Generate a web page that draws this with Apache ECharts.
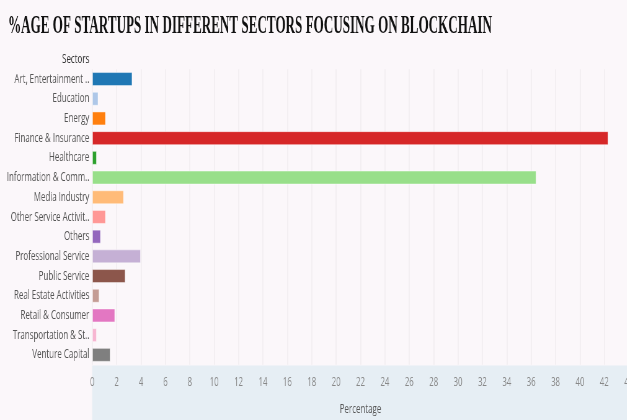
<!DOCTYPE html>
<html>
<head>
<meta charset="utf-8">
<script src="https://cdn.jsdelivr.net/npm/echarts@6/dist/echarts.min.js"></script>
<style>
html, body { margin: 0; padding: 0; overflow: hidden; width: 627px; height: 420px; background: #fbf7fa; }
#chart { height: 420px; transform-origin: 0 0; }
</style>
</head>
<body>
<div id="chart"></div>
<script>
// ---- data ----
const titleText = '%AGE OF STARTUPS IN DIFFERENT SECTORS FOCUSING ON BLOCKCHAIN';
const categories = [
  'Art, Entertainment ..',
  'Education',
  'Energy',
  'Finance & Insurance',
  'Healthcare',
  'Information & Comm..',
  'Media Industry',
  'Other Service Activit..',
  'Others',
  'Professional Service',
  'Public Service',
  'Real Estate Activities',
  'Retail & Consumer',
  'Transportation & St..',
  'Venture Capital'
];
const percentages = [3.28, 0.49, 1.10, 42.33, 0.36, 36.42, 2.58, 1.10, 0.69, 3.97, 2.71, 0.57, 1.86, 0.36, 1.48];
const xTickMin = 0, xTickMax = 44, xTickStep = 2;

// ---- styles ----
const palette = ['#1f77b4', '#aec7e8', '#ff7f0e', '#d62728', '#2ca02c', '#98df8a', '#ffbb78', '#ff9896',
                 '#9467bd', '#c5b0d5', '#8c564b', '#c49c94', '#e377c2', '#f7b6d2', '#7f7f7f'];
const S = 0.62;                 // horizontal condensing of the whole picture
const W = 627 / S;
const px = v => v / S;
const FONT = '"Open Sans", "Noto Sans", sans-serif';

const el = document.getElementById('chart');
el.style.width = W + 'px';
el.style.transform = 'scaleX(' + S + ')';

const chart = echarts.init(el, null, { renderer: 'canvas' });
chart.setOption({
  backgroundColor: '#fbf7fa',
  animation: false,
  graphic: [
    { type: 'rect', silent: true, z: -10,
      shape: { x: px(92.3), y: 365.5, width: W, height: 60 },
      style: { fill: '#e6eef4' } },
    { type: 'text', silent: true, x: px(8), y: 26, scaleX: 0.504 / S,
      style: { text: titleText, font: 'bold 26px "Liberation Serif", "DejaVu Serif", serif',
               fill: '#111111', textVerticalAlign: 'middle', verticalAlign: 'middle' } }
  ],
  grid: { left: px(92.3), top: 69.2, height: 295.5, width: px(536.4),
          containLabel: false, outerBoundsMode: 'none' },
  xAxis: {
    type: 'value', min: xTickMin, max: xTickMax, interval: xTickStep,
    axisLine: { show: false }, axisTick: { show: false },
    axisLabel: { color: '#888888', fontSize: 12.5, margin: 11, fontFamily: FONT },
    splitLine: { show: true, lineStyle: { color: 'rgba(0,0,0,0.045)', width: 1 / S } },
    name: 'Percentage', nameLocation: 'middle', nameGap: 38,
    nameTextStyle: { color: '#555555', fontSize: 12.8, fontFamily: FONT }
  },
  yAxis: {
    type: 'category', data: categories, inverse: true,
    axisLine: { show: false }, axisTick: { show: false },
    axisLabel: { color: '#555555', fontSize: 12.8, margin: px(3), fontFamily: FONT },
    splitLine: { show: false },
    name: 'Sectors', nameLocation: 'start', nameGap: 10,
    nameTextStyle: { color: '#333333', fontSize: 12.8, fontFamily: FONT, align: 'right',
                     verticalAlign: 'middle', padding: [0, px(3), 0, 0] }
  },
  series: [{
    type: 'bar',
    barWidth: 14,
    data: percentages.map((v, i) => ({ value: v, itemStyle: { color: palette[i] } })),
    itemStyle: { borderColor: 'rgba(255,255,255,0.45)', borderWidth: 1 }
  }]
});
</script>
</body>
</html>
